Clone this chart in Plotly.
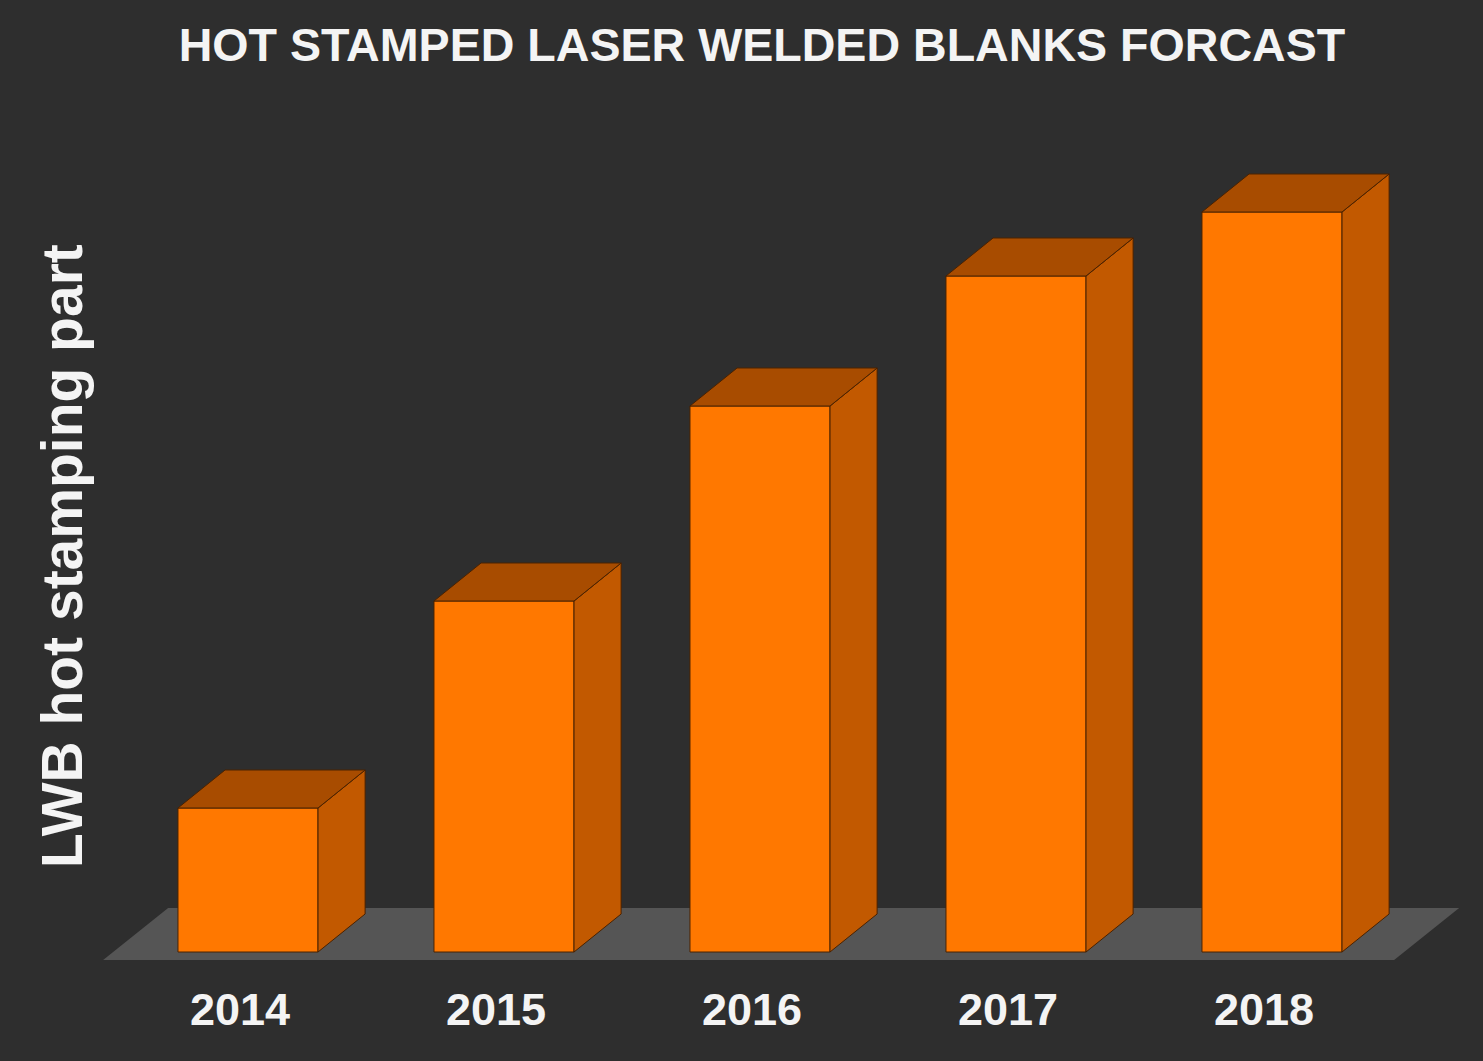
import plotly.graph_objects as go

years = ["2014", "2015", "2016", "2017", "2018"]
lwb_parts = [1.44, 3.51, 5.46, 6.76, 7.40]

BG = "#2e2e2e"
FRONT = "#ff7800"
TOP = "#a84c00"
SIDE = "#c25900"
EDGE = "#4a2200"
FLOOR = "#555555"

W, H = 1483, 1061
bar_w = 0.547
dx, dy = 0.184, 0.38     # depth of the fake 3d faces, data units

fig = go.Figure()

xs = list(range(len(years)))

fig.add_trace(go.Bar(
    x=xs, y=lwb_parts, width=bar_w,
    marker=dict(color=FRONT, line=dict(color=EDGE, width=1)),
    hoverinfo="skip",
))

# top and side faces built from the values
for x, v in zip(xs, lwb_parts):
    l, r = x - bar_w / 2, x + bar_w / 2
    top = ([l, r, r + dx, l + dx, l], [v, v, v + dy, v + dy, v])
    side = ([r, r + dx, r + dx, r, r], [0, dy, v + dy, v, 0])
    for (px, py), col in ((side, SIDE), (top, TOP)):
        fig.add_trace(go.Scatter(
            x=px, y=py, mode="lines", fill="toself", fillcolor=col,
            line=dict(color=EDGE, width=1), hoverinfo="skip",
        ))

# floor slab under the bars
fl, fr, fb, ft = xs[0] - 0.566, xs[-1] + 0.477, -0.08, 0.44
sh = 0.254
fig.add_shape(
    type="path", layer="below", line_width=0, fillcolor=FLOOR,
    path=f"M {fl},{fb} L {fr},{fb} L {fr + sh},{ft} L {fl + sh},{ft} Z",
)

x0 = -248 / 256
fig.update_layout(
    width=W, height=H,
    paper_bgcolor=BG, plot_bgcolor=BG,
    showlegend=False,
    margin=dict(l=0, r=0, t=0, b=101),
    title=dict(
        text="HOT STAMPED LASER WELDED BLANKS FORCAST",
        x=762 / W, xanchor="center", y=1 - 45 / H, yanchor="middle",
        yref="container",
        font=dict(family="Liberation Sans", size=46.6, color="#f4f4f4", weight="bold"),
    ),
    xaxis=dict(
        range=[x0, x0 + W / 256],
        tickvals=xs, ticktext=years,
        showgrid=False, zeroline=False, showline=False,
        ticks="outside", ticklen=10, tickcolor="rgba(0,0,0,0)",
        ticklabelshift=-8,
        tickfont=dict(family="Liberation Sans", size=45, color="#f4f4f4", weight="bold"),
    ),
    yaxis=dict(
        range=[-0.08, 9.52],
        showgrid=False, zeroline=False, showticklabels=False,
    ),
)

fig.add_annotation(
    text="LWB hot stamping part",
    xref="paper", yref="paper", x=62 / W, y=1 - 556 / 960,
    xanchor="center", yanchor="middle",
    textangle=-90, showarrow=False,
    font=dict(family="Liberation Sans", size=57, color="#f4f4f4", weight="bold"),
)

# page has a default 8px body margin, drop it so the chart fills the window
fig.write_html(
    "out.html",
    config={"displayModeBar": False},
    post_script="document.body.style.margin='0px';",
)
